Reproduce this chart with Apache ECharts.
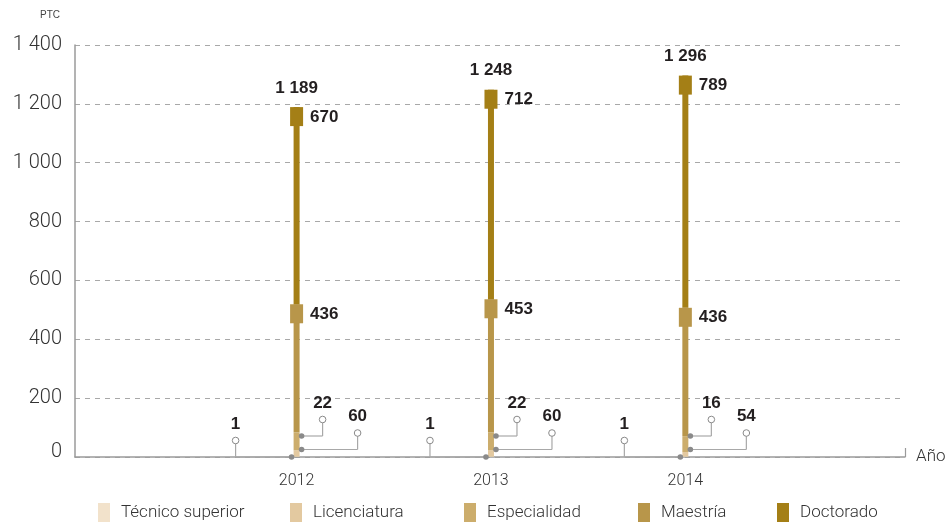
<!DOCTYPE html>
<html>
<head>
<meta charset="utf-8">
<script src="https://cdn.jsdelivr.net/npm/echarts@6/dist/echarts.min.js"></script>
<style>
html,body{margin:0;padding:0;background:#fff;}
#chart{width:949px;height:526px;}
</style>
</head>
<body>
<div id="chart"></div>
<script>
// ---- data ----
const years = [2012, 2013, 2014];
const tecnico = [1, 1, 1];
const licenciatura = [22, 22, 16];
const especialidad = [60, 60, 54];
const maestria = [436, 453, 436];
const doctorado = [670, 712, 789];
const totals = [1189, 1248, 1296];
const seriesNames = ['Técnico superior', 'Licenciatura', 'Especialidad', 'Maestría', 'Doctorado'];
const yMin = 0, yMax = 1400, yStep = 200;

// ---- style ----
const colors = ['#f2e2cb', '#e3c9a0', '#ccad6c', '#b8964a', '#a47f16'];
const xMin = 2010.86, xMax = 2015.13;
const lightFont = 'Roboto';
const boldFont = '"Liberation Sans", Arial, sans-serif';
const barW = 6;

function fmt(n) { return String(n).replace(/\B(?=(\d{3})+(?!\d))/g, ' '); }

const valueArrays = [tecnico, licenciatura, especialidad, maestria, doctorado];

function stackBase(k, i) {
  let s = 0;
  for (let j = 0; j < k; j++) s += valueArrays[j][i];
  return s;
}

const barSeries = seriesNames.map((name, k) => ({
  name: name,
  type: 'custom',
  itemStyle: { color: colors[k] },
  silent: true,
  z: 2,
  data: years.map((y, i) => [y, valueArrays[k][i]]),
  renderItem: function (params, api) {
    const i = params.dataIndex;
    const yr = years[i];
    const b = stackBase(k, i);
    const p0 = api.coord([yr, b]);
    const p1 = api.coord([yr, b + valueArrays[k][i]]);
    return {
      type: 'rect',
      shape: { x: p0[0] - barW / 2, y: p1[1], width: barW, height: p0[1] - p1[1] },
      style: { fill: colors[k] }
    };
  }
}));

function txt(x, y, text, align) {
  return {
    type: 'text',
    style: {
      x: x, y: y, text: text,
      font: 'bold 17px ' + boldFont,
      fill: '#231f20',
      align: align, textAlign: align,
      verticalAlign: 'middle', textVerticalAlign: 'middle'
    }
  };
}
function line(x1, y1, x2, y2) {
  return { type: 'line', shape: { x1, y1, x2, y2 }, style: { stroke: '#a8a8a8', lineWidth: 1.2 } };
}
function dot(x, y) {
  return { type: 'circle', shape: { cx: x, cy: y, r: 2.8 }, style: { fill: '#8a8a8a' } };
}
function ring(x, y) {
  return { type: 'circle', shape: { cx: x, cy: y, r: 3.3 }, style: { fill: '#fff', stroke: '#8a8a8a', lineWidth: 1 } };
}

function renderOverlay(params, api) {
  const i = params.dataIndex;
  const yr = years[i];
  const base = api.coord([yr, 0]);
  const cx = base[0], by = base[1];
  const cumM = stackBase(4, i);
  const cumD = cumM + doctorado[i];
  const pM = api.coord([yr, cumM]);
  const pD = api.coord([yr, cumD]);
  const w = 13, h = 19;
  const ch = [];
  // markers
  ch.push({ type: 'rect', shape: { x: cx - w / 2, y: pM[1], width: w, height: h }, style: { fill: colors[3] } });
  ch.push({ type: 'rect', shape: { x: cx - w / 2, y: pD[1], width: w, height: h }, style: { fill: colors[4] } });
  ch.push(txt(cx + w / 2 + 7, pM[1] + 10, fmt(maestria[i]), 'left'));
  ch.push(txt(cx + w / 2 + 7, pD[1] + 10, fmt(doctorado[i]), 'left'));
  ch.push(txt(cx, pD[1] - 19, fmt(totals[i]), 'center'));
  // callout: Técnico superior
  const tx = cx - 61;
  ch.push(line(cx - 5, by, tx, by));
  ch.push(line(tx, by, tx, by - 16.5));
  ch.push(dot(cx - 5, by));
  ch.push(ring(tx, by - 16.5));
  ch.push(txt(tx, by - 33, fmt(tecnico[i]), 'center'));
  // callout: Licenciatura
  const lx = cx + 26;
  ch.push(line(cx + 5, by - 21, lx, by - 21));
  ch.push(line(lx, by - 21, lx, by - 37.5));
  ch.push(dot(cx + 5, by - 21));
  ch.push(ring(lx, by - 37.5));
  ch.push(txt(lx, by - 54, fmt(licenciatura[i]), 'center'));
  // callout: Especialidad
  const ex = cx + 61;
  ch.push(line(cx + 5, by - 7.5, ex, by - 7.5));
  ch.push(line(ex, by - 7.5, ex, by - 24));
  ch.push(dot(cx + 5, by - 7.5));
  ch.push(ring(ex, by - 24));
  ch.push(txt(ex, by - 40.5, fmt(especialidad[i]), 'center'));
  return { type: 'group', children: ch };
}

const legendLefts = [98, 290, 464, 638, 777];
const legends = seriesNames.map((n, k) => ({
  data: [n],
  left: legendLefts[k],
  top: 503,
  padding: 0,
  itemWidth: 12,
  itemHeight: 19,
  icon: 'rect',
  selectedMode: false,
  textStyle: { fontFamily: lightFont, fontWeight: 300, fontSize: 17, color: '#333', padding: [0, 0, 0, 6] }
}));

const chart = echarts.init(document.getElementById('chart'));
chart.setOption({
  animation: false,
  backgroundColor: '#fff',
  grid: { left: 75, right: 44, top: 45, bottom: 69, containLabel: false },
  legend: legends,
  xAxis: {
    type: 'value',
    min: xMin, max: xMax,
    name: 'Año',
    nameLocation: 'end',
    nameGap: 11,
    nameTextStyle: { fontFamily: lightFont, fontWeight: 300, fontSize: 17, color: '#333' },
    splitLine: { show: false },
    axisLine: { show: true, lineStyle: { color: '#9a9a9a', width: 1.5 } },
    axisTick: { show: true, inside: true, length: 9, customValues: [xMax], lineStyle: { color: '#9a9a9a', width: 1.2 } },
    axisLabel: {
      customValues: years,
      formatter: v => String(v),
      margin: 16,
      fontFamily: lightFont, fontWeight: 300, fontSize: 16, color: '#333'
    }
  },
  yAxis: {
    type: 'value',
    min: yMin, max: yMax, interval: yStep,
    name: 'PTC',
    nameLocation: 'end',
    nameGap: 25,
    nameTextStyle: { fontFamily: boldFont, fontSize: 10, color: '#444', align: 'right', padding: [0, 15, 0, 0] },
    axisLine: { show: true, lineStyle: { color: '#9a9a9a', width: 1.5 } },
    axisTick: { show: false },
    axisLabel: {
      formatter: v => (v === 0 ? '{z|0}' : fmt(v)),
      margin: 13,
      fontFamily: lightFont, fontWeight: 300, fontSize: 20, color: '#333',
      rich: { z: { fontFamily: lightFont, fontWeight: 300, fontSize: 20, color: '#333', padding: [0, 0, 10, 0] } }
    },
    splitLine: { show: true, lineStyle: { color: '#a8a8a8', type: [5, 5], width: 1 } }
  },
  series: barSeries.concat([{
    type: 'custom',
    name: 'overlay',
    z: 5,
    silent: true,
    renderItem: renderOverlay,
    data: years.map((y, i) => [y, totals[i]]),
    clip: false
  }])
});
</script>
</body>
</html>
